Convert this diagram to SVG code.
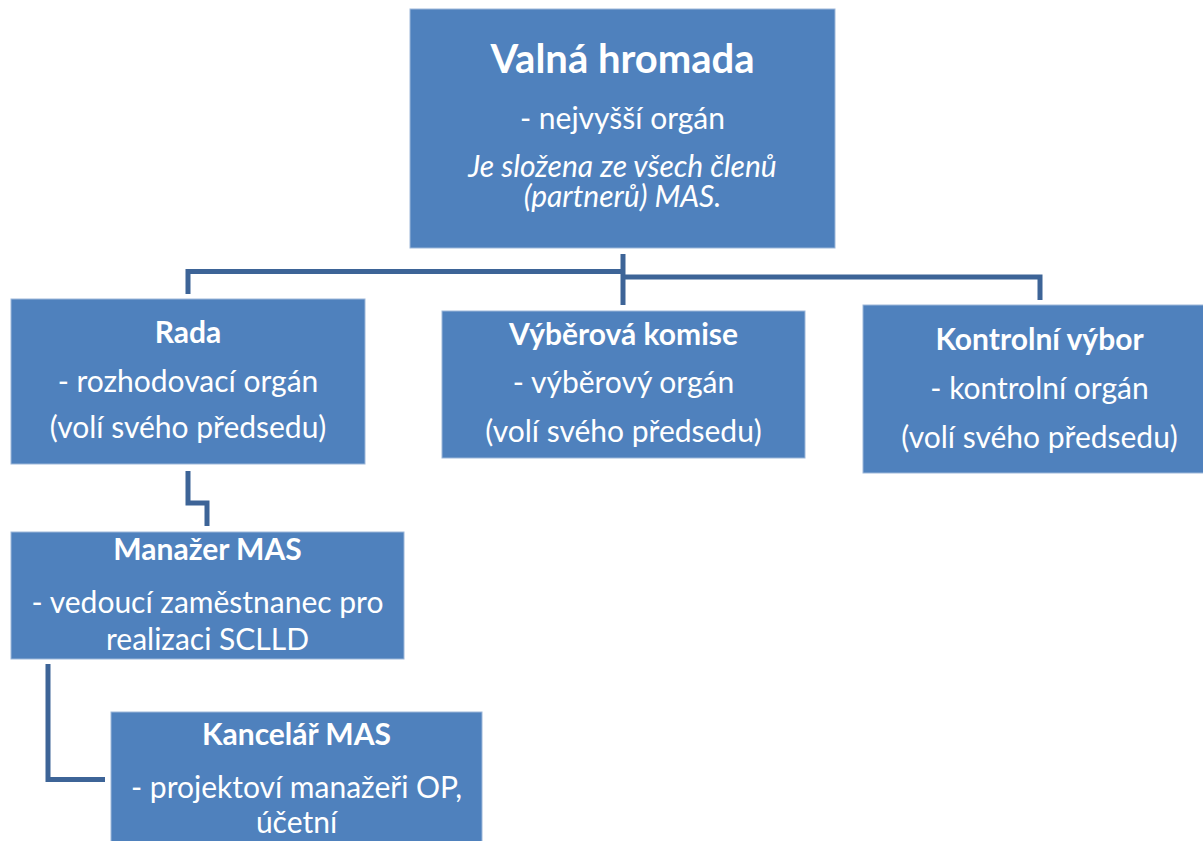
<svg xmlns="http://www.w3.org/2000/svg" width="1203" height="841" viewBox="0 0 1203 841">
<style>
.box{fill:#4F81BD;stroke:#9DB7D9;stroke-width:1}
.conn{fill:none;stroke:#3D6497;stroke-width:5;stroke-linejoin:miter}
text{font-family:Lato,"Liberation Sans",sans-serif;fill:#FFFFFF;text-anchor:middle;font-size:30px}
.t{font-weight:bold}
.big{font-size:40px;font-weight:bold}
.i{font-style:italic}
</style>
<rect width="1203" height="841" fill="#FFFFFF"/>
<g id="connectors">
<path class="conn" d="M623,254 V305"/>
<path class="conn" d="M188,294 V271.5 H623"/>
<path class="conn" d="M623,277 H1040 V300"/>
<path class="conn" d="M188,471 V503 H207 V526"/>
<path class="conn" d="M48,664 V779.5 H105"/>
</g>
<g id="valna-hromada">
<rect class="box" x="410" y="9" width="425" height="239"/>
<text class="big" x="622.5" y="73">Valná hromada</text>
<text x="622.5" y="129">- nejvyšší orgán</text>
<text class="i" x="622.5" y="177"><tspan x="622.5" y="177">Je složena ze všech členů</tspan><tspan x="622.5" y="207">(partnerů) MAS.</tspan></text>
</g>
<g id="rada">
<rect class="box" x="11" y="299" width="354" height="165"/>
<text class="t" x="188" y="343">Rada</text>
<text x="188" y="392">- rozhodovací orgán</text>
<text x="188" y="438">(volí svého předsedu)</text>
</g>
<g id="vyberova-komise">
<rect class="box" x="442" y="311" width="363" height="147"/>
<text class="t" x="623.5" y="345">Výběrová komise</text>
<text x="623.5" y="393">- výběrový orgán</text>
<text x="623.5" y="442">(volí svého předsedu)</text>
</g>
<g id="kontrolni-vybor">
<rect class="box" x="863" y="305" width="353" height="168"/>
<text class="t" x="1039.5" y="350">Kontrolní výbor</text>
<text x="1039.5" y="399">- kontrolní orgán</text>
<text x="1039.5" y="448">(volí svého předsedu)</text>
</g>
<g id="manazer-mas">
<rect class="box" x="11" y="532" width="393" height="127"/>
<text class="t" x="207.5" y="560">Manažer MAS</text>
<text x="207.5" y="613">- vedoucí zaměstnanec pro</text>
<text x="207.5" y="650">realizaci SCLLD</text>
</g>
<g id="kancelar-mas">
<rect class="box" x="111" y="712" width="371" height="140"/>
<text class="t" x="296.5" y="745">Kancelář MAS</text>
<text x="296.5" y="798">- projektoví manažeři OP,</text>
<text x="296.5" y="833">účetní</text>
</g>
</svg>
